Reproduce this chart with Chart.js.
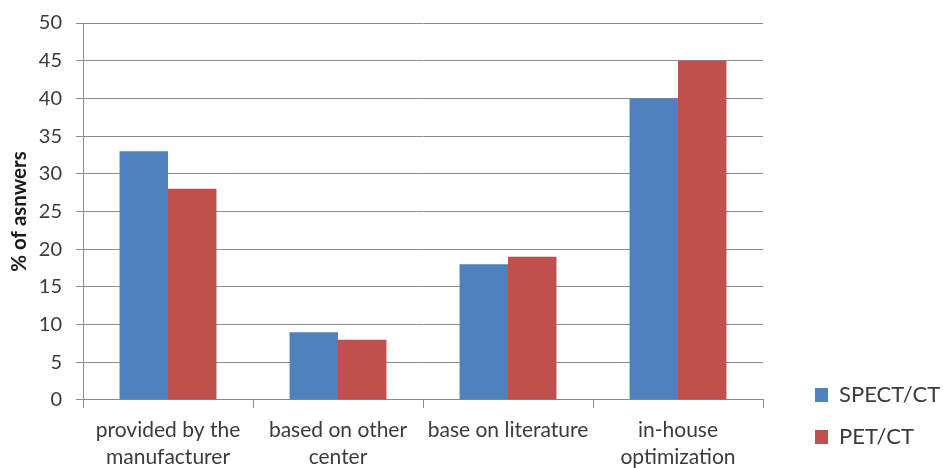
<!DOCTYPE html>
<html>
<head>
<meta charset="utf-8">
<script src="https://cdn.jsdelivr.net/npm/chart.js@4/dist/chart.umd.min.js"></script>
<style>
  html, body { margin: 0; padding: 0; background: #ffffff; }
  #wrap { width: 943px; height: 468px; }
</style>
</head>
<body>
<div id="wrap"><canvas id="chart" width="943" height="468"></canvas></div>
<script>
// Source of the protocol parameters, by modality (% of answers)
const categories = [
  ["provided by the", "manufacturer"],
  ["based on other", "center"],
  ["base on literature"],
  ["in-house", "optimization"]
];
const spectCt = [33, 9, 18, 40];
const petCt = [28, 8, 19, 45];
const yTicks = [0, 5, 10, 15, 20, 25, 30, 35, 40, 45, 50];

const FONT = "Lato, 'Open Sans', sans-serif";
const TEXT = "#3b3b3b";
const GRID = "#8c8c8c";
const X_TICK_PAD = 9;

new Chart(document.getElementById("chart"), {
  type: "bar",
  data: {
    labels: categories,
    datasets: [
      { label: "SPECT/CT", data: spectCt, backgroundColor: "#4f81bd", borderWidth: 0 },
      { label: "PET/CT", data: petCt, backgroundColor: "#c0504d", borderWidth: 0 }
    ]
  },
  options: {
    responsive: false,
    animation: false,
    devicePixelRatio: 1,
    categoryPercentage: 0.57,
    barPercentage: 1.0,
    layout: { padding: { top: 23, left: 0, right: 0, bottom: 0 } },
    plugins: {
      tooltip: { enabled: false },
      legend: {
        position: "right",
        align: "end",
        maxWidth: 148,
        labels: {
          boxWidth: 13,
          boxHeight: 14,
          padding: 20,
          color: TEXT,
          font: { family: FONT, size: 22 }
        }
      }
    },
    scales: {
      x: {
        offset: true,
        // the scale reserves the tick padding twice; keep it only once
        afterFit: (s) => { s.height = s.height - X_TICK_PAD - 3; },
        grid: { display: true, drawOnChartArea: false, drawTicks: true, tickLength: 8, color: GRID },
        border: { display: true, color: GRID },
        ticks: {
          padding: X_TICK_PAD,
          color: TEXT,
          maxRotation: 0,
          autoSkip: false,
          font: { family: FONT, size: 21, lineHeight: 1.286 }
        }
      },
      y: {
        min: 0,
        max: 50,
        afterBuildTicks: (s) => { s.ticks = yTicks.map(v => ({ value: v })); },
        afterFit: (s) => { s.width = 83; s.paddingTop = 0; s.paddingBottom = 0; },
        grid: { color: GRID, tickLength: 7, drawTicks: true },
        border: { display: true, color: GRID },
        ticks: {
          padding: 14,
          color: TEXT,
          font: { family: FONT, size: 20 }
        },
        title: {
          display: true,
          text: "% of asnwers",
          color: "#1a1a1a",
          padding: { top: 7, bottom: 0 },
          font: { family: FONT, size: 20.5, weight: "bold" }
        }
      },
      // empty spacer between the plot and the legend column
      gap: {
        type: "linear",
        position: "right",
        display: true,
        grid: { display: false },
        border: { display: false },
        ticks: { display: false },
        afterFit: (s) => { s.width = 32; s.paddingTop = 0; s.paddingBottom = 0; }
      }
    }
  }
});
</script>
</body>
</html>
